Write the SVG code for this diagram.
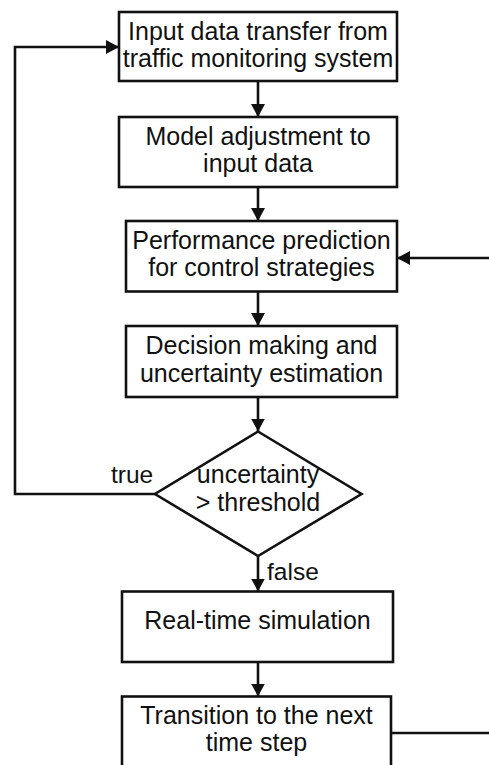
<svg xmlns="http://www.w3.org/2000/svg" width="489" height="765" viewBox="0 0 489 765">
<style>
.box{fill:#fff;stroke:#111;stroke-width:2.6}
.t{font-family:"Liberation Sans",Arial,sans-serif;font-size:25px;fill:#111;text-anchor:middle}
.lbl{font-family:"Liberation Sans",Arial,sans-serif;font-size:24.5px;fill:#111}
.c{fill:none;stroke:#111;stroke-width:2.6}
</style>
<defs>
<marker id="ah" viewBox="0 0 13 14" refX="13" refY="7" markerWidth="13" markerHeight="14" markerUnits="userSpaceOnUse" orient="auto">
<path d="M0,0 L13,7 L0,14 z" fill="#111"/>
</marker>
</defs>
<rect width="489" height="765" fill="#fff"/>
<g id="connectors">
<path class="c" d="M258,81 V117" marker-end="url(#ah)"/>
<path class="c" d="M258,187 V221" marker-end="url(#ah)"/>
<path class="c" d="M258,291.5 V326" marker-end="url(#ah)"/>
<path class="c" d="M258,397 V431.5" marker-end="url(#ah)"/>
<path class="c" d="M258,556 V591.5" marker-end="url(#ah)"/>
<path class="c" d="M258,662 V696.5" marker-end="url(#ah)"/>
<path class="c" d="M155,494 H15 V47 H119" marker-end="url(#ah)"/>
<path class="c" d="M391,733 H500 V258 H397" marker-end="url(#ah)"/>
<text class="lbl" x="111" y="483">true</text>
<text class="lbl" x="267" y="580">false</text>
</g>
<g id="input">
<rect class="box" x="119" y="12" width="278" height="69"/>
<text class="t" x="258" y="40">Input data transfer from</text>
<text class="t" x="258" y="67">traffic monitoring system</text>
</g>
<g id="model">
<rect class="box" x="119" y="117" width="278" height="70"/>
<text class="t" x="258" y="145">Model adjustment to</text>
<text class="t" x="258" y="172">input data</text>
</g>
<g id="performance">
<rect class="box" x="126" y="221" width="271" height="70.5"/>
<text class="t" x="261.5" y="248.5">Performance prediction</text>
<text class="t" x="261.5" y="276">for control strategies</text>
</g>
<g id="decision">
<rect class="box" x="126" y="326" width="271" height="71"/>
<text class="t" x="261.5" y="354">Decision making and</text>
<text class="t" x="261.5" y="381.5">uncertainty estimation</text>
</g>
<g id="check">
<polygon class="box" points="258,431.5 361.5,494 258,556 155,494"/>
<text class="t" x="258" y="483">uncertainty</text>
<text class="t" x="258" y="511">&gt; threshold</text>
</g>
<g id="simulation">
<rect class="box" x="122" y="591.5" width="271" height="70.5"/>
<text class="t" x="257.5" y="629">Real-time simulation</text>
</g>
<g id="transition">
<rect class="box" x="122" y="696.5" width="269" height="90"/>
<text class="t" x="256.5" y="724">Transition to the next</text>
<text class="t" x="256.5" y="751">time step</text>
</g>
</svg>
